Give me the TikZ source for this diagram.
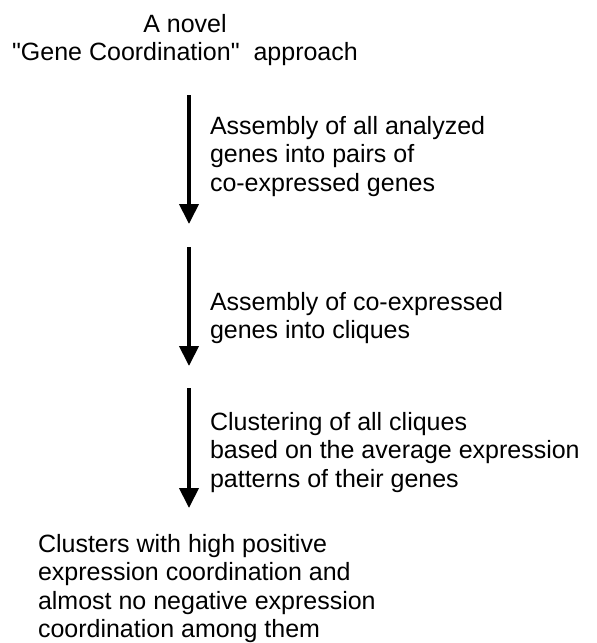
\documentclass[tikz,border=0pt]{standalone}
\usepackage{fontspec}
\setmainfont{Liberation Sans}
\usetikzlibrary{arrows.meta}
\begin{document}
\begin{tikzpicture}[x=1pt,y=-1pt,
  lbl/.style={inner sep=0pt, outer sep=0pt, align=left, anchor=north west, font=\fontsize{25}{28.5}\selectfont},
  flow/.style={line width=4pt, -{Triangle[length=20pt,width=19pt]}}]
\useasboundingbox (0,0) rectangle (597,643);
\node[lbl, align=center, anchor=north] (title) at (185,14.1) {A novel\\\textquotedbl Gene Coordination\textquotedbl\ \ approach};
\node[lbl] (s1) at (210,116.1) {Assembly of all analyzed\\genes into pairs of\\co-expressed genes};
\node[lbl] (s2) at (210,292.1) {Assembly of co-expressed\\genes into cliques};
\node[lbl] (s3) at (210,412.1) {Clustering of all cliques\\based on the average expression\\patterns of their genes};
\node[lbl] (res) at (38,534.1) {Clusters with high positive\\expression coordination and\\almost no negative expression\\coordination among them};
\coordinate (a1s) at (189,95);
\coordinate (a1e) at (189,224);
\coordinate (a2s) at (189,247);
\coordinate (a2e) at (189,366);
\coordinate (a3s) at (189,388);
\coordinate (a3e) at (189,508);
\draw[flow] (a1s) -- (a1e);
\draw[flow] (a2s) -- (a2e);
\draw[flow] (a3s) -- (a3e);
\end{tikzpicture}
\end{document}
